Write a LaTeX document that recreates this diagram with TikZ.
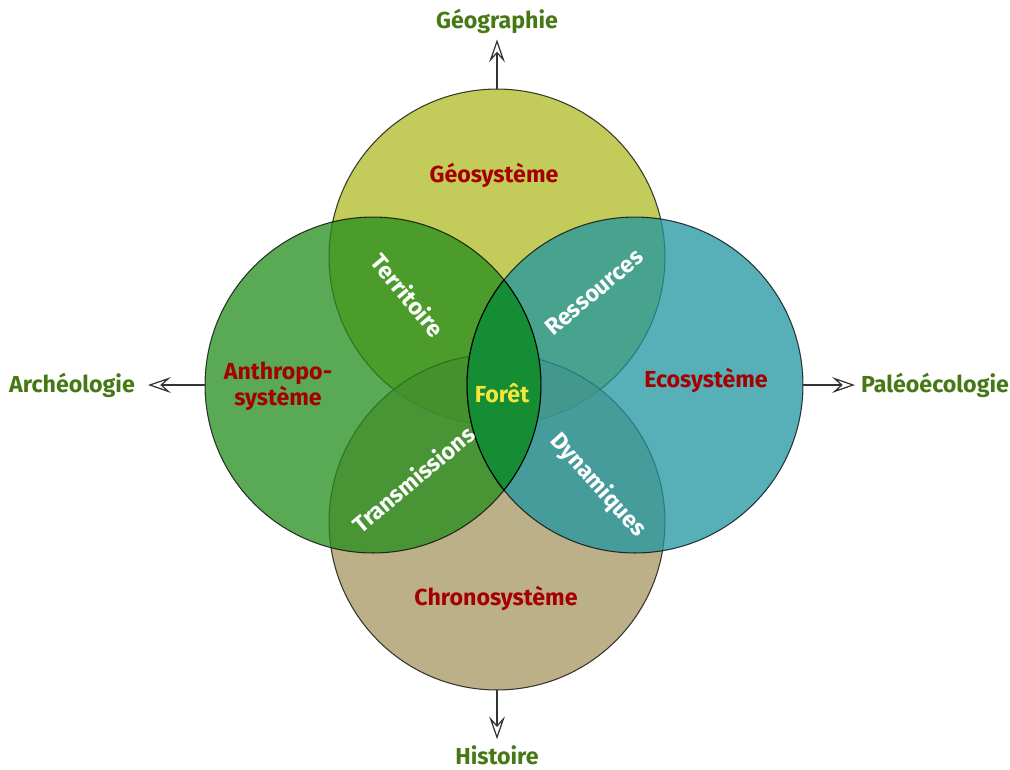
\documentclass[tikz,border=0pt]{standalone}
\usepackage{fontspec}
\setmainfont{Fira Sans}
\usetikzlibrary{arrows.meta}

\definecolor{geocol}{RGB}{175,185,35}
\definecolor{anthrocol}{RGB}{35,141,28}
\definecolor{ecocol}{RGB}{31,149,160}
\definecolor{chronocol}{RGB}{166,149,96}
\definecolor{foretcol}{RGB}{18,140,38}
\definecolor{systcol}{RGB}{165,0,0}
\definecolor{disccol}{RGB}{70,120,20}
\definecolor{foretlabel}{RGB}{245,230,60}

\newcommand{\labelfont}{\fontsize{13.2}{15}\selectfont\bfseries}

\tikzset{
	sphere/.style={circle, draw=black, line width=0.6pt, fill=#1, opacity=0.75, minimum size=6.72cm, inner sep=0pt, outer sep=0pt},
	syst/.style={text=systcol, font=\labelfont},
	link/.style={text=white, font=\labelfont},
	disc/.style={text=disccol, font=\labelfont},
	fleche/.style={-{Stealth[open, fill=white, length=13pt, width=9pt, inset=5pt]}, line width=0.7pt, draw=black!80},
}

\begin{document}
\begin{tikzpicture}[x=0.02cm, y=-0.02cm]
	\useasboundingbox (0,0) rectangle (1010,769);

	\node[sphere=geocol] (geo) at (497,257) {};
	\node[sphere=chronocol] (chrono) at (497,522) {};
	\node[sphere=anthrocol] (anthro) at (373,385) {};
	\node[sphere=ecocol] (eco) at (635,385) {};

	% la foret au milieu
	\begin{scope}
		\clip (anthro.center) circle[radius=3.36cm];
		\fill[foretcol, opacity=0.85] (eco.center) circle[radius=3.36cm];
		\draw[line width=0.6pt] (eco.center) circle[radius=3.36cm];
	\end{scope}
	\begin{scope}
		\clip (eco.center) circle[radius=3.36cm];
		\draw[line width=0.6pt] (anthro.center) circle[radius=3.36cm];
	\end{scope}

	\node[syst] (geosyst) at (494,175) {Géosystème};
	\node[syst, align=center] (anthrosyst) at (278,386) {Anthropo-\\système};
	\node[syst] (ecosyst) at (706,380) {Ecosystème};
	\node[syst] (chronosyst) at (496,598) {Chronosystème};

	\node[link, rotate=-50] (territoire) at (408,295) {Territoire};
	\node[link, rotate=40] (ressources) at (594,292) {Ressources};
	\node[link, rotate=40] (transmissions) at (413,479) {Transmissions};
	\node[link, rotate=-48] (dynamiques) at (598,485) {Dynamiques};
	\node[text=foretlabel, font=\labelfont] (foret) at (502,393) {Forêt};

	\node[disc] (geographie) at (497,21) {Géographie};
	\node[disc] (archeologie) at (72,385) {Archéologie};
	\node[disc] (paleo) at (935,385) {Paléoécologie};
	\node[disc] (histoire) at (497,755) {Histoire};

	\draw[fleche] (geo.north) -- (geographie);
	\draw[fleche, shorten >=4pt] (anthro.west) -- (archeologie);
	\draw[fleche] (eco.east) -- (paleo);
	\draw[fleche] (chrono.south) -- (histoire);
\end{tikzpicture}
\end{document}
